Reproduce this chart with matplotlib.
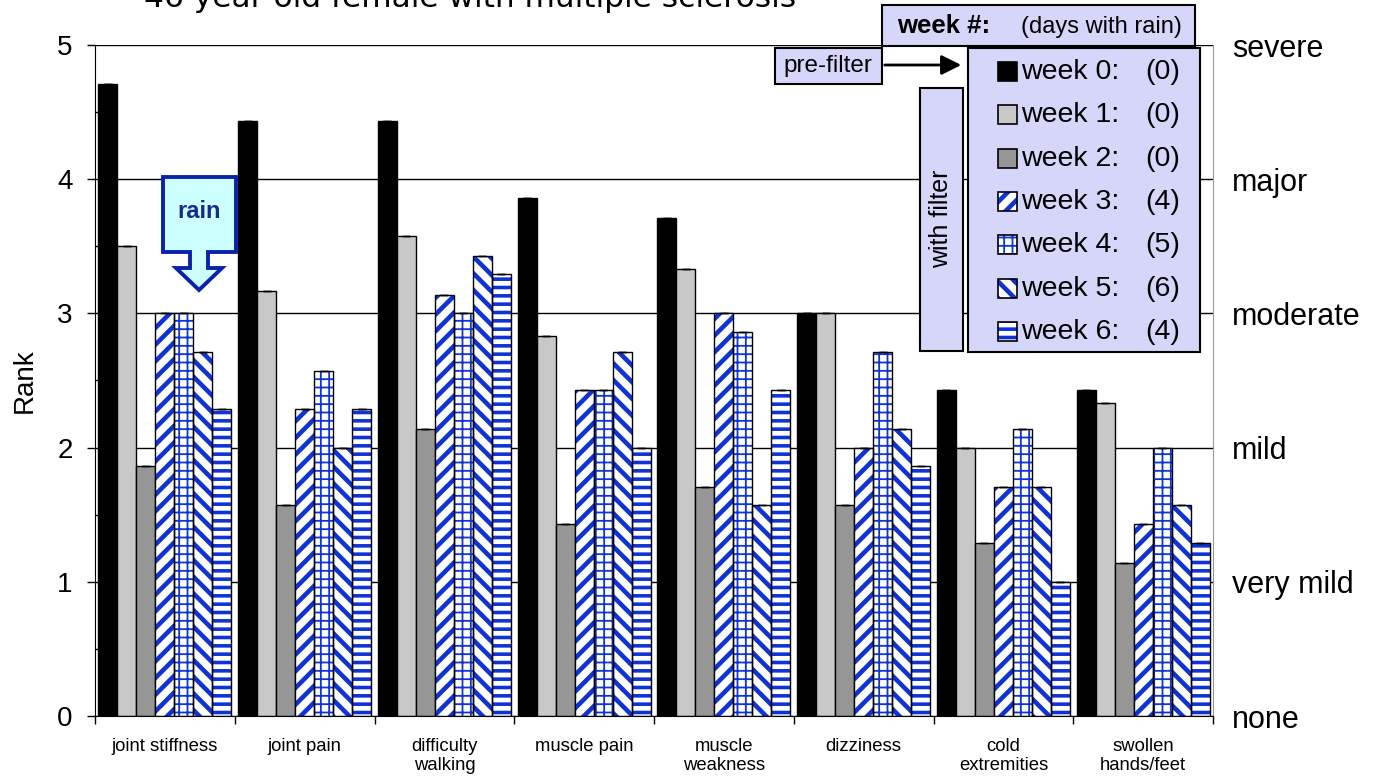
import matplotlib
matplotlib.use("Agg")
import matplotlib.pyplot as plt
from matplotlib.patches import Rectangle, Polygon, FancyArrowPatch
from matplotlib.ticker import MultipleLocator
import numpy as np

plt.rcParams['font.family'] = ['Liberation Sans', 'DejaVu Sans']

# data (mean daily rank per week)
symptoms = ["joint stiffness", "joint pain", "difficulty\nwalking", "muscle pain",
            "muscle\nweakness", "dizziness", "cold\nextremities", "swollen\nhands/feet"]
week_names = ["week 0:", "week 1:", "week 2:", "week 3:", "week 4:", "week 5:", "week 6:"]
rain_days = [0, 0, 0, 4, 5, 6, 4]
week0 = [4.71, 4.43, 4.43, 3.86, 3.71, 3.00, 2.43, 2.43]
week1 = [3.50, 3.17, 3.58, 2.83, 3.33, 3.00, 2.00, 2.33]
week2 = [1.86, 1.57, 2.14, 1.43, 1.71, 1.57, 1.29, 1.14]
week3 = [3.00, 2.29, 3.14, 2.43, 3.00, 2.00, 1.71, 1.43]
week4 = [3.00, 2.57, 3.00, 2.43, 2.86, 2.71, 2.14, 2.00]
week5 = [2.71, 2.00, 3.43, 2.71, 1.57, 2.14, 1.71, 1.57]
week6 = [2.29, 2.29, 3.29, 2.00, 2.43, 1.86, 1.00, 1.29]
severity = ["none", "very mild", "mild", "moderate", "major", "severe"]

weeks = [week0, week1, week2, week3, week4, week5, week6]

BLUE = '#1034d4'
LAV = '#d6d6fa'
# (face, hatch, hatch linewidth)
styles = [('black', None, 0), ('#c8c8c8', None, 0), ('#969696', None, 0),
          ('white', '//', 3.3), ('white', '++', 1.3), ('white', '\\\\', 3.3), ('white', '--', 2.6)]

W, H = 1378, 779
fig = plt.figure(figsize=(W / 100, H / 100), dpi=100)
ax = fig.add_axes([95 / W, 63 / H, 1118 / W, 671 / H])


def hatch_lw(patch, lw):
    if hasattr(patch, 'set_hatch_linewidth'):
        patch.set_hatch_linewidth(lw)


x = np.arange(len(symptoms))
bw = 0.136
for j, vals in enumerate(weeks):
    face, hatch, hlw = styles[j]
    pos = x + (j - 3) * bw
    if hatch is None:
        ax.bar(pos, vals, bw, color=face, edgecolor='black', linewidth=1, zorder=2)
    else:
        plt.rcParams['hatch.linewidth'] = hlw
        bars = ax.bar(pos, vals, bw, color='white', edgecolor=BLUE, linewidth=0,
                      hatch=hatch, zorder=2)
        for b in bars:
            hatch_lw(b, hlw)
        ax.bar(pos, vals, bw, fill=False, edgecolor='black', linewidth=1, zorder=3)
    ax.errorbar(pos, vals, yerr=0, fmt='none', ecolor='black', capsize=3,
                elinewidth=1, capthick=1, zorder=4)

ax.set_xlim(-0.5, len(symptoms) - 0.5)
ax.set_ylim(0, 5)
ax.set_axisbelow(True)
ax.yaxis.grid(True, color='black', linewidth=1)
ax.yaxis.set_major_locator(MultipleLocator(1))
ax.yaxis.set_minor_locator(MultipleLocator(0.5))
ax.tick_params(axis='y', which='major', length=6, width=1, labelsize=20, pad=10)
ax.tick_params(axis='y', which='minor', length=4, width=1, direction='in')

ax.set_xticks(np.arange(len(symptoms) + 1) - 0.5)
ax.set_xticklabels([])
ax.set_xticks(x, minor=True)
ax.set_xticklabels(symptoms, minor=True, fontsize=13.3, linespacing=1.15)
ax.tick_params(axis='x', which='major', length=6, width=1)
ax.tick_params(axis='x', which='minor', length=0, pad=16)

ax.spines['top'].set_visible(False)
ax.spines['right'].set_color('#999999')
ax.set_ylabel("Rank", fontsize=20, labelpad=14)

ax2 = ax.twinx()
ax2.set_ylim(0, 5)
ax2.set_yticks(range(len(severity)))
ax2.set_yticklabels(severity, fontsize=22)
ax2.tick_params(axis='y', length=0, pad=14)
for sp in ax2.spines.values():
    sp.set_visible(False)

# title, cut off by the top edge as in the original
fig.text(470 / W, 1 - 7 / H, "46 year old female with multiple sclerosis",
         fontsize=22.5, family='DejaVu Sans', ha='center', va='baseline')


def box(x0, y0, x1, y1, fc=LAV, ec='black', lw=1.5):
    r = Rectangle((x0 / W, 1 - y1 / H), (x1 - x0) / W, (y1 - y0) / H,
                  transform=fig.transFigure, facecolor=fc, edgecolor=ec, linewidth=lw, zorder=5)
    fig.patches.append(r)
    return r


def label(px, py, s, **kw):
    return fig.text(px / W, 1 - py / H, s, zorder=6, **kw)


# legend header
box(882, 5, 1195, 46)
label(897, 26, "week #:", fontsize=18.5, fontweight='bold', va='center', ha='left')
label(1182, 27, "(days with rain)", fontsize=17, va='center', ha='right')

# legend body
box(968, 48, 1200, 352)
for k, name in enumerate(week_names):
    yc = 72 + 43.3 * k
    face, hatch, hlw = styles[k]
    if hatch is None:
        box(998, yc - 10, 1017, yc + 9, fc=face, ec='black', lw=1.2)
    else:
        plt.rcParams['hatch.linewidth'] = hlw
        r = Rectangle((998 / W, 1 - (yc + 9) / H), 19 / W, 19 / H, transform=fig.transFigure,
                      facecolor='white', edgecolor=BLUE, linewidth=0, hatch=hatch, zorder=5)
        hatch_lw(r, hlw)
        fig.patches.append(r)
        box(998, yc - 10, 1017, yc + 9, fc='none', ec='black', lw=1.2)
    label(1021, yc, name, fontsize=20.5, va='center', ha='left')
    label(1180, yc, "(%d)" % rain_days[k], fontsize=20.5, va='center', ha='right')

# pre-filter / with filter tags
box(775, 48, 882, 84)
label(828, 66, "pre-filter", fontsize=17.5, ha='center', va='center')
arr = FancyArrowPatch((882 / W, 1 - 65 / H), (964 / W, 1 - 65 / H), transform=fig.transFigure,
                      arrowstyle='-|>', mutation_scale=30, color='black', linewidth=2, zorder=6)
fig.patches.append(arr)
box(920, 88, 963, 351)
label(941, 219, "with filter", fontsize=18, rotation=90, ha='center', va='center')

# "rain" callout
pts = [(163, 177), (236, 177), (236, 252), (208, 252), (208, 268), (222, 268), (199, 290),
       (176, 268), (190, 268), (190, 252), (163, 252)]
poly = Polygon([(px / W, 1 - py / H) for px, py in pts], closed=True, transform=fig.transFigure,
               facecolor='#ccffff', edgecolor='#0a22aa', linewidth=2.8, zorder=5)
fig.patches.append(poly)
label(199, 211, "rain", fontsize=17, fontweight='bold', color='#1a2a8a',
      ha='center', va='center')

fig.savefig("out.png", dpi=100)
